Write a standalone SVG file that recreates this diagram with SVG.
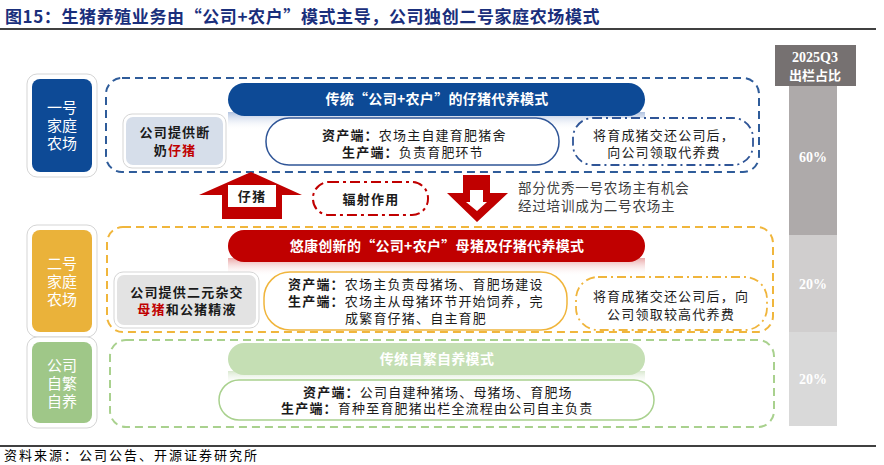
<svg xmlns="http://www.w3.org/2000/svg" width="884" height="465" viewBox="0 0 884 465">
<defs>
<linearGradient id="shB" x1="0" y1="0" x2="0" y2="1"><stop offset="0" stop-color="#8FA8D2" stop-opacity="0.7"/><stop offset="1" stop-color="#FFFFFF" stop-opacity="0"/></linearGradient>
<linearGradient id="shR" x1="0" y1="0" x2="0" y2="1"><stop offset="0" stop-color="#E08080" stop-opacity="0.7"/><stop offset="1" stop-color="#FFFFFF" stop-opacity="0"/></linearGradient>
<linearGradient id="shG" x1="0" y1="0" x2="0" y2="1"><stop offset="0" stop-color="#C8DEBA" stop-opacity="0.7"/><stop offset="1" stop-color="#FFFFFF" stop-opacity="0"/></linearGradient>
</defs>
<style>
text{font-family:"Noto Sans CJK SC","Liberation Sans",sans-serif;}
.t{font-size:13px;letter-spacing:1.2px;fill:#1a1a1a;}
.b{font-weight:bold;}
.c{text-anchor:middle;}
.lab{font-size:15px;fill:#fff;text-anchor:middle;}
.pt{font-size:14px;font-weight:bold;fill:#fff;text-anchor:middle;letter-spacing:0.3px;}
.frame{fill:#fff;stroke:#D5D5D5;stroke-width:1;}
.num{font-family:"Liberation Serif",serif;font-weight:bold;font-size:14px;fill:#fff;text-anchor:middle;}
</style>
<rect width="884" height="465" fill="#fff"/>
<g id="title">
<text x="5" y="23" font-size="17" font-weight="bold" letter-spacing="0.6" fill="#1A2F7C">图15：生猪养殖业务由“公司+农户”模式主导，公司独创二号家庭农场模式</text>
<line x1="0" y1="29" x2="876" y2="29" stroke="#000" stroke-width="1.5"/>
</g>
<g id="containers" fill="none" stroke-width="2">
<rect x="106" y="78" width="653" height="94" rx="16" stroke="#2F5C9A" stroke-dasharray="8 5"/>
<rect x="107" y="227" width="666" height="105" rx="16" stroke="#F0B63C" stroke-dasharray="8 5"/>
<rect x="110" y="340" width="664" height="87" rx="16" stroke="#A9D18E" stroke-dasharray="8 5"/>
</g>
<g id="label1">
<rect class="frame" x="27" y="74" width="70" height="103" rx="10"/>
<rect x="32" y="79" width="60" height="93" rx="8" fill="#0D4A96"/>
<text class="lab"><tspan x="62" y="113">一号</tspan><tspan x="62" y="131">家庭</tspan><tspan x="62" y="149">农场</tspan></text>
</g>
<g id="label2">
<rect class="frame" x="27" y="225" width="70" height="112" rx="10"/>
<rect x="32" y="230" width="60" height="102" rx="8" fill="#EAB23A"/>
<text class="lab"><tspan x="62" y="269">二号</tspan><tspan x="62" y="287">家庭</tspan><tspan x="62" y="305">农场</tspan></text>
</g>
<g id="label3">
<rect class="frame" x="27" y="337" width="70" height="91" rx="10"/>
<rect x="32" y="342" width="60" height="81" rx="8" fill="#9FC788"/>
<text class="lab"><tspan x="62" y="371">公司</tspan><tspan x="62" y="389">自繁</tspan><tspan x="62" y="407">自养</tspan></text>
</g>
<g id="mode1">
<rect x="228" y="112" width="417" height="18" fill="url(#shB)"/>
<rect x="228" y="83" width="417" height="33" rx="16.5" fill="#0D4A96"/>
<text class="pt" x="437" y="104">传统“公司+农户”的仔猪代养模式</text>
</g>
<g id="supply1">
<rect class="frame" x="123" y="114" width="103" height="54" rx="9"/>
<rect x="126" y="117" width="97" height="48" rx="7" fill="#D6DEEA"/>
<text class="t b c"><tspan x="175" y="137">公司提供断</tspan><tspan x="175" y="155">奶<tspan fill="#C00000">仔猪</tspan></tspan></text>
</g>
<g id="asset1">
<rect x="266" y="118" width="293" height="47" rx="23" fill="#fff" stroke="#2F5597" stroke-width="1.5"/>
<text class="t"><tspan x="322" y="140"><tspan class="b">资产端：</tspan>农场主自建育肥猪舍</tspan><tspan x="342" y="157"><tspan class="b">生产端：</tspan>负责育肥环节</tspan></text>
</g>
<g id="fee1">
<rect x="573" y="118" width="180" height="47" rx="20" fill="#fff" stroke="#2F5597" stroke-width="1.8" stroke-dasharray="9 4 2 4"/>
<text class="t c"><tspan x="664" y="140">将育成猪交还公司后，</tspan><tspan x="664" y="157">向公司领取代养费</tspan></text>
</g>
<g id="radiation">
<rect x="313" y="182" width="115" height="33" rx="16" fill="#fff" stroke="#C00000" stroke-width="2" stroke-dasharray="10 4 3 4"/>
<text class="t b c" x="371" y="204">辐射作用</text>
</g>
<g id="note">
<text font-size="13.5" fill="#404040" letter-spacing="0.8"><tspan x="518" y="193">部分优秀一号农场主有机会</tspan><tspan x="518" y="211">经过培训成为二号农场主</tspan></text>
</g>
<g id="mode2">
<rect x="228" y="258" width="417" height="18" fill="url(#shR)"/>
<rect x="228" y="230" width="417" height="32" rx="16" fill="#C00000"/>
<text class="pt" x="437" y="251">悠康创新的“公司+农户”母猪及仔猪代养模式</text>
</g>
<g id="supply2">
<rect class="frame" x="114" y="272" width="145" height="56" rx="9"/>
<rect x="117" y="275" width="139" height="50" rx="7" fill="#E3E3E3"/>
<text class="t b c"><tspan x="187" y="297">公司提供二元杂交</tspan><tspan x="187" y="314"><tspan fill="#C00000">母猪</tspan>和公猪精液</tspan></text>
</g>
<g id="asset2">
<rect x="264" y="272" width="303" height="58" rx="26" fill="#fff" stroke="#F0B53C" stroke-width="1.5"/>
<text class="t"><tspan x="288" y="289"><tspan class="b">资产端：</tspan>农场主负责母猪场、育肥场建设</tspan><tspan x="288" y="306"><tspan class="b">生产端：</tspan>农场主从母猪环节开始饲养，完</tspan><tspan x="345" y="323">成繁育仔猪、自主育肥</tspan></text>
</g>
<g id="fee2">
<rect x="576" y="277" width="191" height="53" rx="22" fill="#fff" stroke="#F0B53C" stroke-width="1.8" stroke-dasharray="9 4 2 4"/>
<text class="t c"><tspan x="671" y="301">将育成猪交还公司后，向</tspan><tspan x="671" y="319">公司领取较高代养费</tspan></text>
</g>
<g id="mode3">
<rect x="228" y="371" width="417" height="14" fill="url(#shG)"/>
<rect x="228" y="343" width="417" height="32" rx="16" fill="#C5DFB4"/>
<text class="pt" x="437" y="364">传统自繁自养模式</text>
</g>
<g id="asset3">
<rect x="219" y="380" width="435" height="40" rx="20" fill="#fff" stroke="#A9D18E" stroke-width="1.5"/>
<text class="t"><tspan x="303" y="397"><tspan class="b">资产端：</tspan>公司自建种猪场、母猪场、育肥场</tspan><tspan x="281" y="413"><tspan class="b">生产端：</tspan>育种至育肥猪出栏全流程由公司自主负责</tspan></text>
</g>
<g id="connectors">
<polygon points="251,172 302,195 282,195 282,219 222,219 222,195 199,195" fill="#C00000"/>
<rect x="228" y="185" width="48" height="22" fill="#fff"/>
<text class="t b c" x="252" y="201">仔猪</text>
<polygon points="463,175 490,175 490,193 508,193 477,222 447,193 463,193" fill="#C00000"/>
<polygon points="470,190 483,190 483,202 487,202 477,211 466,202 470,202" fill="#fff"/>
</g>
<g id="share">
<rect x="775" y="45" width="81" height="41" fill="#767171"/>
<text fill="#fff" text-anchor="middle" font-weight="bold"><tspan class="num" x="815" y="62">2025Q3</tspan><tspan x="815" y="80" font-size="13">出栏占比</tspan></text>
<rect x="789" y="86" width="48" height="149" fill="#AEAAAA"/>
<rect x="789" y="235" width="48" height="97" fill="#D0CECE"/>
<rect x="789" y="332" width="48" height="94" fill="#D9D9D9"/>
<text class="num" x="813" y="162">60%</text>
<text class="num" x="813" y="289">20%</text>
<text class="num" x="813" y="384">20%</text>
</g>
<g id="source">
<line x1="0" y1="446" x2="876" y2="446" stroke="#000" stroke-width="1.5"/>
<text x="4" y="460" font-size="13" letter-spacing="2" fill="#000">资料来源：公司公告、开源证券研究所</text>
</g>
</svg>
